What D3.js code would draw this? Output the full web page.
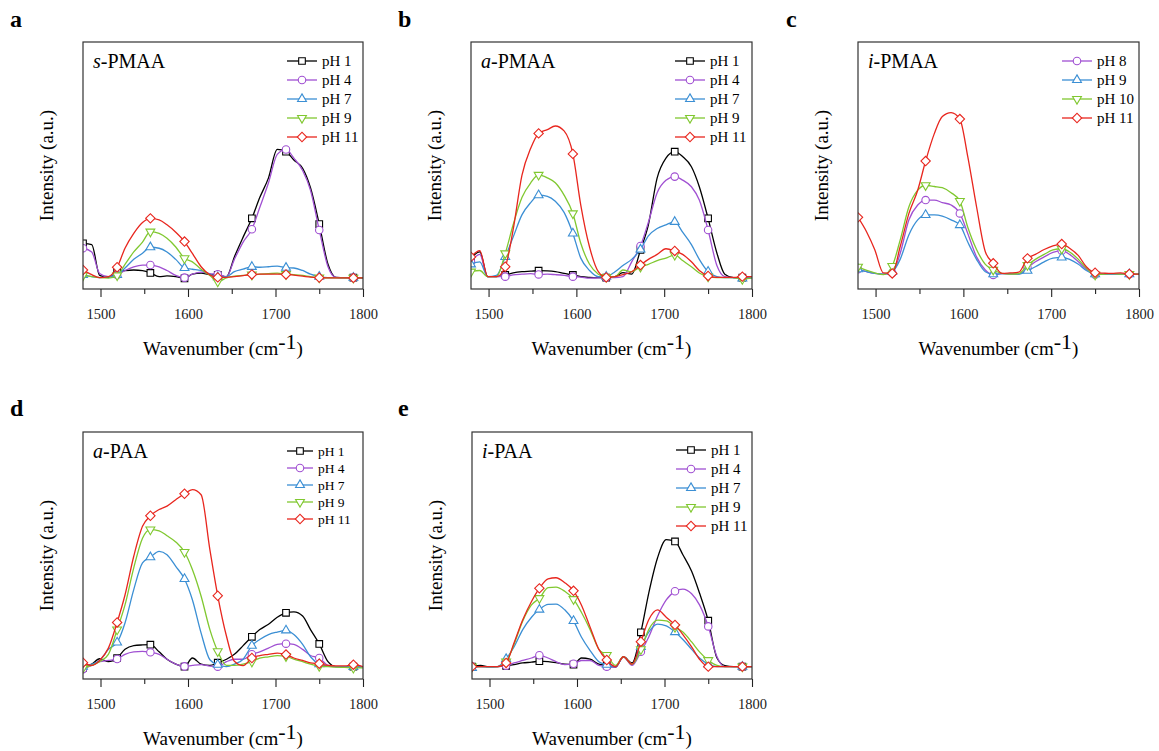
<!DOCTYPE html>
<html>
<head>
<meta charset="utf-8">
<script src="https://cdn.jsdelivr.net/npm/d3@7"></script>
<style>
  body { margin: 0; background: #fff; }
  svg { display: block; font-family: "Liberation Serif", "Times New Roman", serif; }
</style>
</head>
<body>
<div id="chart"></div>
<script>
// wavenumber grid (cm-1); markers sit on every 4th point
const wn = [1480, 1490, 1499, 1509, 1519, 1528, 1538, 1548, 1557, 1567, 1576, 1586, 1596, 1605, 1615, 1625, 1634,
            1644, 1653, 1663, 1673, 1682, 1692, 1702, 1712, 1721, 1731, 1740, 1750, 1760, 1769, 1779, 1789, 1800];
const markerEvery = 4;
const xTicks = [1500, 1600, 1700, 1800];
const xMinor = [1550, 1650, 1750];

// a: s-PMAA
const sPMAA_pH1 = [0.185, 0.18, 0.055, 0.047, 0.068, 0.074, 0.077, 0.074,
  0.065, 0.05, 0.053, 0.05, 0.043, 0.06, 0.064, 0.058,
  0.057, 0.05, 0.13, 0.21, 0.286, 0.37, 0.45, 0.565,
  0.556, 0.522, 0.489, 0.41, 0.263, 0.1, 0.047, 0.046, 0.046, 0.044];
const sPMAA_pH4 = [0.165, 0.15, 0.063, 0.05, 0.057, 0.075, 0.09, 0.097,
  0.097, 0.09, 0.075, 0.055, 0.046, 0.06, 0.068, 0.062,
  0.06, 0.05, 0.12, 0.19, 0.242, 0.33, 0.43, 0.545,
  0.565, 0.53, 0.48, 0.4, 0.239, 0.09, 0.047, 0.046, 0.046, 0.044];
const sPMAA_pH7 = [0.057, 0.05, 0.046, 0.05, 0.057, 0.085, 0.12, 0.145,
  0.169, 0.165, 0.15, 0.12, 0.085, 0.08, 0.075, 0.06,
  0.048, 0.05, 0.07, 0.08, 0.09, 0.088, 0.09, 0.093,
  0.086, 0.085, 0.075, 0.06, 0.05, 0.046, 0.046, 0.046, 0.046, 0.045];
const sPMAA_pH9 = [0.055, 0.05, 0.046, 0.044, 0.055, 0.1, 0.15, 0.19,
  0.232, 0.225, 0.205, 0.17, 0.124, 0.11, 0.08, 0.055,
  0.03, 0.045, 0.052, 0.055, 0.058, 0.06, 0.062, 0.064,
  0.06, 0.058, 0.055, 0.05, 0.046, 0.045, 0.045, 0.045, 0.045, 0.045];
const sPMAA_pH11 = [0.077, 0.058, 0.046, 0.05, 0.088, 0.165, 0.225, 0.269,
  0.286, 0.28, 0.26, 0.23, 0.192, 0.144, 0.09, 0.057,
  0.047, 0.047, 0.05, 0.054, 0.059, 0.06, 0.06, 0.06,
  0.059, 0.056, 0.052, 0.048, 0.046, 0.045, 0.045, 0.045, 0.045, 0.045];

// b: a-PMAA
const aPMAA_pH1 = [0.125, 0.15, 0.05, 0.05, 0.057, 0.065, 0.07, 0.072,
  0.074, 0.073, 0.07, 0.063, 0.057, 0.05, 0.047, 0.046,
  0.046, 0.05, 0.066, 0.06, 0.158, 0.26, 0.45, 0.53,
  0.556, 0.536, 0.495, 0.414, 0.286, 0.146, 0.06, 0.046, 0.046, 0.046];
const aPMAA_pH4 = [0.11, 0.14, 0.05, 0.05, 0.05, 0.057, 0.06, 0.062,
  0.059, 0.06, 0.058, 0.055, 0.05, 0.048, 0.044, 0.045,
  0.046, 0.046, 0.05, 0.11, 0.174, 0.27, 0.39, 0.44,
  0.455, 0.441, 0.414, 0.36, 0.239, 0.095, 0.05, 0.046, 0.046, 0.046];
const aPMAA_pH7 = [0.1, 0.11, 0.05, 0.055, 0.13, 0.21, 0.3, 0.35,
  0.38, 0.375, 0.355, 0.31, 0.225, 0.125, 0.075, 0.05,
  0.05, 0.07, 0.095, 0.12, 0.16, 0.215, 0.245, 0.26,
  0.272, 0.23, 0.18, 0.12, 0.07, 0.05, 0.046, 0.046, 0.043, 0.045];
const aPMAA_pH9 = [0.07, 0.075, 0.05, 0.05, 0.144, 0.26, 0.37, 0.43,
  0.462, 0.45, 0.43, 0.38, 0.306, 0.185, 0.1, 0.06,
  0.048, 0.05, 0.077, 0.07, 0.09, 0.1, 0.115, 0.125,
  0.138, 0.115, 0.09, 0.065, 0.05, 0.046, 0.046, 0.046, 0.04, 0.045];
const aPMAA_pH11 = [0.13, 0.155, 0.05, 0.05, 0.09, 0.24, 0.46, 0.57,
  0.63, 0.645, 0.66, 0.64, 0.547, 0.34, 0.17, 0.07,
  0.047, 0.05, 0.058, 0.07, 0.097, 0.12, 0.14, 0.163,
  0.154, 0.14, 0.11, 0.075, 0.053, 0.047, 0.047, 0.047, 0.05, 0.05];

// c: i-PMAA
const iPMAA_pH8 = [0.08, 0.07, 0.063, 0.06, 0.065, 0.144, 0.28, 0.34,
  0.36, 0.36, 0.35, 0.34, 0.306, 0.225, 0.13, 0.077,
  0.057, 0.062, 0.06, 0.06, 0.086, 0.11, 0.13, 0.148,
  0.155, 0.14, 0.11, 0.08, 0.058, 0.06, 0.06, 0.06, 0.06, 0.06];
const iPMAA_pH9 = [0.08, 0.07, 0.063, 0.06, 0.07, 0.12, 0.22, 0.28,
  0.3, 0.3, 0.295, 0.28, 0.259, 0.19, 0.12, 0.07,
  0.06, 0.062, 0.062, 0.06, 0.074, 0.09, 0.11, 0.125,
  0.128, 0.12, 0.1, 0.075, 0.06, 0.06, 0.06, 0.06, 0.06, 0.06];
const iPMAA_pH10 = [0.09, 0.075, 0.065, 0.058, 0.093, 0.198, 0.333, 0.4,
  0.42, 0.415, 0.41, 0.39, 0.356, 0.25, 0.16, 0.1,
  0.078, 0.063, 0.06, 0.062, 0.097, 0.12, 0.14, 0.158,
  0.163, 0.15, 0.12, 0.085, 0.058, 0.06, 0.062, 0.06, 0.06, 0.06];
const iPMAA_pH11 = [0.29, 0.23, 0.16, 0.065, 0.063, 0.171, 0.306, 0.4,
  0.518, 0.63, 0.698, 0.714, 0.688, 0.536, 0.333, 0.151,
  0.104, 0.063, 0.065, 0.068, 0.124, 0.14, 0.16, 0.175,
  0.182, 0.165, 0.135, 0.09, 0.066, 0.064, 0.063, 0.065, 0.061, 0.06];

// d: a-PAA
const aPAA_pH1 = [0.045, 0.06, 0.082, 0.07, 0.085, 0.12, 0.135, 0.138,
  0.139, 0.11, 0.08, 0.06, 0.05, 0.085, 0.06, 0.055,
  0.066, 0.08, 0.1, 0.135, 0.171, 0.2, 0.222, 0.25,
  0.268, 0.272, 0.255, 0.2, 0.142, 0.07, 0.05, 0.05, 0.05, 0.05];
const aPAA_pH4 = [0.04, 0.055, 0.07, 0.075, 0.081, 0.1, 0.11, 0.112,
  0.108, 0.1, 0.08, 0.06, 0.051, 0.055, 0.058, 0.052,
  0.05, 0.07, 0.08, 0.08, 0.1, 0.11, 0.125, 0.14,
  0.143, 0.14, 0.12, 0.095, 0.085, 0.055, 0.05, 0.05, 0.05, 0.05];
const aPAA_pH7 = [0.05, 0.06, 0.075, 0.12, 0.148, 0.227, 0.362, 0.47,
  0.493, 0.517, 0.503, 0.456, 0.405, 0.321, 0.186, 0.078,
  0.058, 0.05, 0.06, 0.08, 0.135, 0.16, 0.18, 0.19,
  0.197, 0.18, 0.14, 0.09, 0.06, 0.052, 0.05, 0.05, 0.049, 0.05];
const aPAA_pH9 = [0.045, 0.055, 0.07, 0.1, 0.2, 0.3, 0.45, 0.57,
  0.605, 0.6, 0.58, 0.555, 0.514, 0.443, 0.335, 0.2,
  0.112, 0.055, 0.055, 0.06, 0.07, 0.085, 0.09, 0.095,
  0.092, 0.08, 0.07, 0.06, 0.052, 0.05, 0.048, 0.047, 0.045, 0.045];
const aPAA_pH11 = [0.066, 0.055, 0.075, 0.125, 0.229, 0.34, 0.497, 0.618,
  0.661, 0.686, 0.7, 0.726, 0.75, 0.767, 0.746, 0.524,
  0.337, 0.173, 0.072, 0.054, 0.085, 0.095, 0.1, 0.105,
  0.099, 0.085, 0.075, 0.065, 0.062, 0.055, 0.053, 0.053, 0.058, 0.05];

// e: i-PAA
const iPAA_pH1 = [0.05, 0.055, 0.05, 0.05, 0.053, 0.058, 0.065, 0.068,
  0.072, 0.07, 0.066, 0.06, 0.058, 0.085, 0.08, 0.06,
  0.055, 0.048, 0.09, 0.065, 0.189, 0.348, 0.49, 0.564,
  0.557, 0.503, 0.436, 0.348, 0.236, 0.085, 0.054, 0.05, 0.05, 0.05];
const iPAA_pH4 = [0.05, 0.05, 0.05, 0.05, 0.054, 0.065, 0.075, 0.085,
  0.096, 0.085, 0.07, 0.058, 0.062, 0.075, 0.075, 0.055,
  0.05, 0.048, 0.09, 0.055, 0.11, 0.17, 0.255, 0.32,
  0.355, 0.364, 0.345, 0.3, 0.213, 0.09, 0.05, 0.05, 0.05, 0.05];
const iPAA_pH7 = [0.045, 0.05, 0.048, 0.05, 0.081, 0.13, 0.2, 0.25,
  0.281, 0.302, 0.303, 0.28, 0.235, 0.17, 0.115, 0.07,
  0.058, 0.05, 0.09, 0.06, 0.13, 0.19, 0.222, 0.215,
  0.19, 0.16, 0.12, 0.085, 0.06, 0.05, 0.05, 0.05, 0.05, 0.05];
const iPAA_pH9 = [0.05, 0.05, 0.05, 0.05, 0.07, 0.14, 0.235, 0.3,
  0.327, 0.37, 0.372, 0.355, 0.323, 0.27, 0.2, 0.12,
  0.097, 0.055, 0.09, 0.06, 0.12, 0.2, 0.238, 0.235,
  0.21, 0.19, 0.15, 0.11, 0.076, 0.055, 0.05, 0.05, 0.05, 0.05];
const iPAA_pH11 = [0.05, 0.05, 0.05, 0.05, 0.065, 0.146, 0.24, 0.314,
  0.367, 0.405, 0.41, 0.39, 0.357, 0.3, 0.21, 0.12,
  0.077, 0.05, 0.09, 0.06, 0.151, 0.24, 0.28, 0.25,
  0.219, 0.18, 0.13, 0.08, 0.05, 0.05, 0.05, 0.05, 0.05, 0.05];

const labels5 = ["pH 1", "pH 4", "pH 7", "pH 9", "pH 11"];
const labelsC = ["pH 8", "pH 9", "pH 10", "pH 11"];

const black = "#000000", purple = "#a050d2", blue = "#3b8fd4", green = "#80c830", red = "#e8261e";
const colors5 = [black, purple, blue, green, red];
const colorsC = [purple, blue, green, red];
const shapes5 = ["square", "circle", "up", "down", "diamond"];
const shapesC = ["circle", "up", "down", "diamond"];

const panels = [
  {id: "a", pre: "s", name: "-PMAA", labels: labels5, colors: colors5, shapes: shapes5,
   series: [sPMAA_pH1, sPMAA_pH4, sPMAA_pH7, sPMAA_pH9, sPMAA_pH11],
   left: 83, top: 42, w: 280, h: 247, letterX: 10, letterY: 27, legGap: 19, legLen: 30, legFont: 15, legTop: 19},
  {id: "b", pre: "a", name: "-PMAA", labels: labels5, colors: colors5, shapes: shapes5,
   series: [aPMAA_pH1, aPMAA_pH4, aPMAA_pH7, aPMAA_pH9, aPMAA_pH11],
   left: 471, top: 42, w: 281, h: 247, letterX: 398, letterY: 27, legGap: 19, legLen: 30, legFont: 15, legTop: 19},
  {id: "c", pre: "i", name: "-PMAA", labels: labelsC, colors: colorsC, shapes: shapesC,
   series: [iPMAA_pH8, iPMAA_pH9, iPMAA_pH10, iPMAA_pH11],
   left: 858, top: 42, w: 281, h: 247, letterX: 786, letterY: 27, legGap: 19, legLen: 30, legFont: 15, legTop: 19},
  {id: "d", pre: "a", name: "-PAA", labels: labels5, colors: colors5, shapes: shapes5,
   series: [aPAA_pH1, aPAA_pH4, aPAA_pH7, aPAA_pH9, aPAA_pH11],
   left: 83, top: 432, w: 280, h: 247, letterX: 10, letterY: 416, legGap: 17, legLen: 26, legFont: 13.5, legTop: 19},
  {id: "e", pre: "i", name: "-PAA", labels: labels5, colors: colors5, shapes: shapes5,
   series: [iPAA_pH1, iPAA_pH4, iPAA_pH7, iPAA_pH9, iPAA_pH11],
   left: 472, top: 432, w: 280, h: 247, letterX: 398, letterY: 416, legGap: 19, legLen: 30, legFont: 15, legTop: 18}
];

const svg = d3.select("#chart").append("svg")
  .attr("width", 1159)
  .attr("height", 751);

const symbolFor = shape => {
  if (shape === "square") return {d: d3.symbol(d3.symbolSquare, 44)(), rot: 0};
  if (shape === "circle") return {d: d3.symbol(d3.symbolCircle, 44)(), rot: 0};
  if (shape === "up") return {d: d3.symbol(d3.symbolTriangle, 34)(), rot: 0};
  if (shape === "down") return {d: d3.symbol(d3.symbolTriangle, 34)(), rot: 180};
  return {d: d3.symbol(d3.symbolSquare, 44)(), rot: 45};
};

const drawMarker = (g, shape, color, cx, cy) => {
  const s = symbolFor(shape);
  g.append("path")
    .attr("d", s.d)
    .attr("transform", `translate(${cx},${cy}) rotate(${s.rot})`)
    .attr("fill", "#fff")
    .attr("stroke", color)
    .attr("stroke-width", 1.1);
};

const drawPanel = (p) => {
  const x = d3.scaleLinear().domain([1480, 1800]).range([p.left, p.left + p.w]);
  const y = d3.scaleLinear().domain([0, 1]).range([p.top + p.h, p.top]);
  const bottom = p.top + p.h;

  const g = svg.append("g");

  g.append("clipPath").attr("id", "clip-" + p.id)
    .append("rect")
    .attr("x", p.left).attr("y", p.top)
    .attr("width", p.w).attr("height", p.h);

  const plot = g.append("g").attr("clip-path", `url(#clip-${p.id})`);

  const line = d3.line()
    .x((d, i) => x(wn[i]))
    .y(d => y(d))
    .curve(d3.curveMonotoneX);

  p.series.forEach((s, k) => {
    plot.append("path")
      .datum(s)
      .attr("d", line)
      .attr("fill", "none")
      .attr("stroke", p.colors[k])
      .attr("stroke-width", 1.3);
    s.forEach((v, i) => {
      if (i % markerEvery === 0 && i < wn.length - 1) {
        drawMarker(plot, p.shapes[k], p.colors[k], x(wn[i]), y(v));
      }
    });
  });

  // frame
  g.append("rect")
    .attr("x", p.left).attr("y", p.top)
    .attr("width", p.w).attr("height", p.h)
    .attr("fill", "none")
    .attr("stroke", "#333")
    .attr("stroke-width", 1.2);

  const xAxis = g.append("g")
    .attr("transform", `translate(0,${bottom})`)
    .call(d3.axisBottom(x).tickValues(xTicks).tickSize(8).tickPadding(12).tickFormat(d3.format("d")));
  xAxis.select(".domain").remove();
  xAxis.attr("font-family", null).attr("font-size", 14.5).attr("color", "#222");
  xAxis.selectAll("line").attr("stroke-width", 1.1);

  const minorAxis = g.append("g")
    .attr("transform", `translate(0,${bottom})`)
    .call(d3.axisBottom(x).tickValues(xMinor).tickSize(5).tickFormat(""));
  minorAxis.select(".domain").remove();
  minorAxis.attr("color", "#222");
  minorAxis.selectAll("line").attr("stroke-width", 1.1);

  // x title
  const xt = g.append("text")
    .attr("x", p.left + p.w / 2)
    .attr("y", bottom + 66)
    .attr("text-anchor", "middle")
    .attr("font-size", 19);
  xt.append("tspan").text("Wavenumber (cm");
  xt.append("tspan").attr("font-size", 22).attr("dy", -6).text("-1");
  xt.append("tspan").attr("dy", 6).text(")");

  // y title
  g.append("text")
    .attr("transform", `translate(${p.left - 30},${p.top + p.h / 2}) rotate(-90)`)
    .attr("text-anchor", "middle")
    .attr("font-size", 19)
    .text("Intensity (a.u.)");

  // panel letter
  g.append("text")
    .attr("x", p.letterX).attr("y", p.letterY)
    .attr("font-size", 24)
    .attr("font-weight", "bold")
    .text(p.id);

  // sample name
  const title = g.append("text")
    .attr("x", p.left + 10).attr("y", p.top + 26)
    .attr("font-size", 20);
  title.append("tspan").attr("font-style", "italic").text(p.pre);
  title.append("tspan").text(p.name);

  // legend
  const legX = p.left + 204;
  p.labels.forEach((lab, k) => {
    const ly = p.top + p.legTop + k * p.legGap;
    g.append("line")
      .attr("x1", legX).attr("x2", legX + p.legLen)
      .attr("y1", ly).attr("y2", ly)
      .attr("stroke", p.colors[k])
      .attr("stroke-width", 1.3);
    drawMarker(g, p.shapes[k], p.colors[k], legX + p.legLen / 2, ly);
    g.append("text")
      .attr("x", legX + p.legLen + 5)
      .attr("y", ly)
      .attr("dy", "0.35em")
      .attr("font-size", p.legFont)
      .text(lab);
  });
};

panels.forEach(drawPanel);
</script>
</body>
</html>
